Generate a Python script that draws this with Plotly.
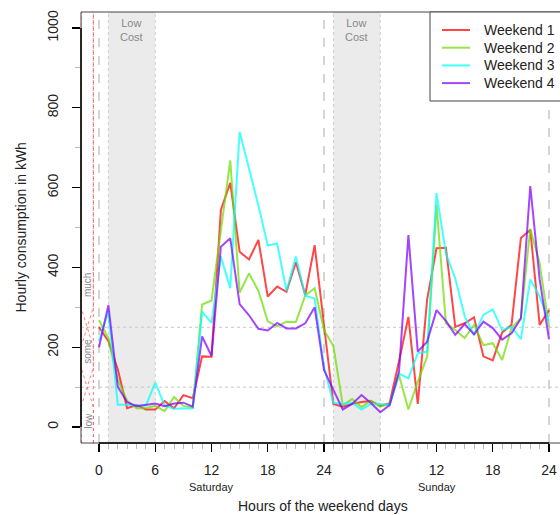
import plotly.graph_objects as go

hours = list(range(49))
weekend_names = ["Weekend 1", "Weekend 2", "Weekend 3", "Weekend 4"]

weekend1 = [250, 215, 145, 47, 55, 44, 44, 65, 47, 80, 72, 177, 176, 544, 612, 439, 420, 469,
            327, 352, 339, 413, 331, 456, 255, 58, 51, 58, 63, 65, 53, 60, 165, 276, 58, 320,
            448, 449, 251, 260, 275, 177, 167, 237, 256, 474, 494, 256, 293]
weekend2 = [268, 222, 118, 66, 47, 47, 53, 40, 75, 53, 49, 307, 317, 492, 668, 337, 385, 341,
            265, 252, 264, 263, 330, 348, 243, 203, 55, 70, 50, 66, 51, 58, 130, 44, 114, 176,
            557, 260, 243, 223, 256, 205, 210, 168, 248, 273, 497, 410, 251]
weekend3 = [215, 290, 56, 56, 54, 54, 111, 54, 46, 47, 47, 289, 261, 427, 348, 740, 650, 555,
            455, 460, 341, 427, 329, 322, 150, 60, 58, 61, 44, 58, 58, 55, 134, 122, 185, 189,
            586, 435, 372, 278, 231, 281, 295, 243, 251, 220, 370, 327, 264]
weekend4 = [200, 305, 101, 62, 52, 56, 59, 52, 59, 61, 51, 227, 178, 452, 473, 308, 280, 246,
            242, 261, 247, 247, 260, 300, 143, 93, 44, 58, 80, 60, 37, 55, 139, 481, 189, 214,
            293, 266, 231, 258, 232, 264, 248, 219, 235, 272, 604, 370, 220]
series = [weekend1, weekend2, weekend3, weekend4]
colors = ["rgba(255,0,0,0.72)", "rgba(110,220,0,0.72)", "rgba(0,255,255,0.72)", "rgba(128,0,255,0.72)"]

x_tick_vals = [0, 6, 12, 18, 24, 30, 36, 42, 48]
x_tick_text = ["0", "6", "12", "18", "24", "6", "12", "18", "24"]
y_tick_vals = [0, 200, 400, 600, 800, 1000]
day_labels = ["Saturday", "Sunday"]
day_label_hours = [12, 36]
low_cost_periods = [(1, 6), (25, 30)]
day_boundaries = [0, 24, 48]
fuzzy_thresholds = [100, 250]

# fuzzy membership functions (consumption value -> membership degree)
fuzzy_v = [-40, 50, 150, 200, 300, 1040]
mu_low = [1, 1, 0, 0, 0, 0]
mu_some = [0, 0, 1, 1, 0, 0]
mu_much = [0, 0, 0, 0, 1, 1]
fuzzy_labels = ["low", "some", "much"]
fuzzy_label_values = [15, 190, 355]

XMIN, XMAX = -1.92, 49.17
YMIN, YMAX = -40, 1040
MU0, MU1 = -1.92, -0.6

# pixel geometry of the plot area
L, R, T, B = 81, 560, 12, 443
W, H = 560, 515


def px(xp):
    return (xp - L) / (R - L)


def py(yp):
    return (B - yp) / (B - T)


fig = go.Figure()

for mu in (mu_low, mu_some, mu_much):
    fig.add_trace(go.Scatter(x=[MU0 + m * (MU1 - MU0) for m in mu], y=fuzzy_v, mode="lines",
                             line=dict(color="rgba(255,90,90,0.8)", width=1, dash="dot"),
                             showlegend=False, hoverinfo="skip"))

for name, vals, col in zip(weekend_names, series, colors):
    fig.add_trace(go.Scatter(x=hours, y=vals, mode="lines", name=name, showlegend=False,
                             line=dict(color=col, width=2)))

shapes = []
for a, b in low_cost_periods:
    shapes.append(dict(type="rect", xref="x", yref="paper", x0=a, x1=b, y0=0, y1=1,
                       fillcolor="#EBEBEB", line=dict(width=0), layer="below"))
    for xv in (a, b):
        shapes.append(dict(type="line", xref="x", yref="paper", x0=xv, x1=xv, y0=0, y1=1,
                           line=dict(color="#CFCFCF", width=1, dash="dot"), layer="below"))
for xv in day_boundaries:
    shapes.append(dict(type="line", xref="x", yref="paper", x0=xv, x1=xv, y0=0, y1=1,
                       line=dict(color="#AAAAAA", width=1, dash="dash"), layer="below"))
for yv in fuzzy_thresholds:
    shapes.append(dict(type="line", xref="paper", yref="y", x0=0, x1=1, y0=yv, y1=yv,
                       line=dict(color="#C8C8C8", width=1, dash="dot"), layer="below"))
shapes.append(dict(type="line", xref="x", yref="paper", x0=MU1, x1=MU1, y0=0, y1=1,
                   line=dict(color="rgba(255,90,90,0.8)", width=1, dash="dot"), layer="below"))
shapes += [
    dict(type="line", xref="paper", yref="paper", x0=0, x1=1, y0=1, y1=1, line=dict(color="#444", width=1)),
    dict(type="line", xref="paper", yref="paper", x0=0, x1=1, y0=0, y1=0, line=dict(color="#444", width=1)),
    dict(type="line", xref="paper", yref="paper", x0=0, x1=0, y0=0, y1=1, line=dict(color="#444", width=1)),
    dict(type="line", xref="paper", yref="y", x0=0, x1=0, y0=0, y1=1000, line=dict(color="#000", width=1.5)),
    dict(type="line", xref="x", yref="paper", x0=0, x1=48, y0=0, y1=0, line=dict(color="#000", width=1.5)),
]

annotations = []

# legend box (its right side runs past the page edge, as in the original)
shapes.append(dict(type="rect", xref="paper", yref="paper", x0=px(430), x1=px(580),
                   y0=py(101), y1=py(12), fillcolor="white", line=dict(color="#444", width=1)))
for i, (name, col) in enumerate(zip(weekend_names, colors)):
    yc = 30 + 17.7 * i
    shapes.append(dict(type="line", xref="paper", yref="paper", x0=px(442), x1=px(470),
                       y0=py(yc), y1=py(yc), line=dict(color=col, width=2)))
    annotations.append(dict(x=px(482), y=py(yc), xref="paper", yref="paper", xanchor="left",
                            yanchor="middle", text=name, showarrow=False,
                            font=dict(size=14, color="#222")))

for a, b in low_cost_periods:
    annotations.append(dict(x=(a + b) / 2, y=1, xref="x", yref="paper", yanchor="top", yshift=-3,
                            text="Low<br>Cost", showarrow=False,
                            font=dict(size=11, color="#888888")))
for lab, h in zip(day_labels, day_label_hours):
    annotations.append(dict(x=h, y=0, xref="x", yref="paper", yanchor="middle", yshift=-44,
                            text=lab, showarrow=False, font=dict(size=11, color="#222")))
for lab, v in zip(fuzzy_labels, fuzzy_label_values):
    annotations.append(dict(x=(MU0 + MU1) / 2 + 0.05, y=v, xref="x", yref="y", text=lab,
                            showarrow=False, textangle=-90, font=dict(size=10, color="#888888")))
annotations.append(dict(x=px(323), y=0, xref="paper", yref="paper", yshift=-63,
                        yanchor="middle", text="Hours of the weekend days", showarrow=False,
                        font=dict(size=14, color="#222")))
annotations.append(dict(x=0, y=0.5, xref="paper", yref="paper", xshift=-61, xanchor="center",
                        text="Hourly consumption in kWh", showarrow=False, textangle=-90,
                        font=dict(size=14, color="#222")))

minor_x = [h for h in range(1, 48) if h % 6 != 0]

fig.update_layout(
    width=W, height=H,
    margin=dict(l=L, r=W - R, t=T, b=H - B),
    paper_bgcolor="white", plot_bgcolor="white",
    font=dict(family="Liberation Sans, Arial, sans-serif", size=14, color="#222"),
    shapes=shapes, annotations=annotations,
    showlegend=False, hovermode=False,
    xaxis=dict(range=[XMIN, XMAX], showgrid=False, zeroline=False, showline=False,
               tickmode="array", tickvals=x_tick_vals, ticktext=x_tick_text,
               ticks="outside", ticklen=8, tickcolor="#000", tickwidth=1.2,
               tickfont=dict(size=14, color="#222"), ticklabelstandoff=6,
               minor=dict(tickmode="array", tickvals=minor_x, ticks="outside", ticklen=5,
                          tickcolor="#BBBBBB", tickwidth=1, showgrid=False)),
    yaxis=dict(range=[YMIN, YMAX], showgrid=False, zeroline=False, showline=False,
               tickmode="array", tickvals=y_tick_vals, ticks="outside", ticklen=8,
               tickcolor="#000", tickwidth=1.2, tickangle=-90,
               tickfont=dict(size=14, color="#222"), ticklabelstandoff=8,
               minor=dict(tickmode="array", tickvals=[100, 300, 500, 700, 900], ticks="outside",
                          ticklen=5, tickcolor="#BBBBBB", tickwidth=1, showgrid=False)),
)

fig.write_html("out.html", config={"displayModeBar": False, "staticPlot": True},
               post_script="document.body.style.margin='0';document.body.style.overflow='hidden';")
